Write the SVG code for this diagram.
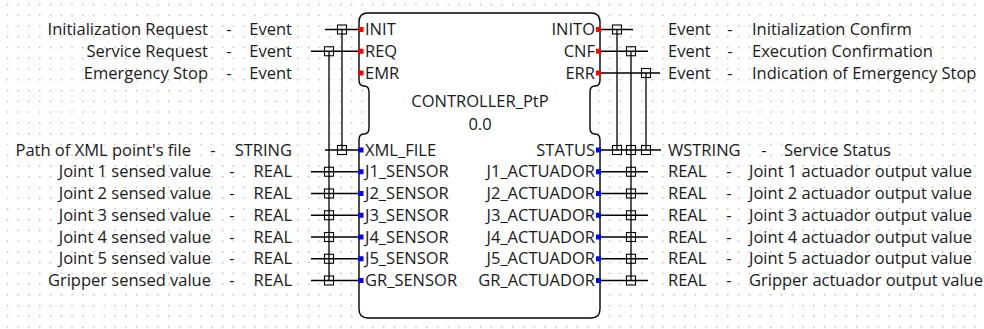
<svg xmlns="http://www.w3.org/2000/svg" width="984" height="329" viewBox="0 0 984 329">
<defs>
<pattern id="grid" x="0" y="0" width="10.75" height="10.75" patternUnits="userSpaceOnUse">
<rect x="7" y="4" width="1.2" height="1.2" fill="#9a9a9a"/>
</pattern>
</defs>
<style>
text{font-family:"Open Sans","Liberation Sans",sans-serif;font-size:16.5px;fill:#1a1a1a}
.e{text-anchor:end}
.m{text-anchor:middle}
.w{stroke:#000;stroke-width:1.3;fill:none}
.j{stroke:#000;stroke-width:1.1;fill:none}
.ev{fill:#ff0000}
.da{fill:#0000ff}
</style>
<rect width="984" height="329" fill="#ffffff"/>
<rect width="984" height="329" fill="url(#grid)"/>

<g id="connectors">
<path class="w" d="M325,29.5H359M311,51.25H359M325,150H359M311,171.75H359M311,193.5H359M311,215.25H359M311,237H359M311,258.75H359M311,280.5H359M342,29.5V150M329,51.25V280.5"/>
<g class="j">
<rect x="337.5" y="25" width="9" height="9"/>
<rect x="324.5" y="46.75" width="9" height="9"/>
<rect x="337.5" y="145.5" width="9" height="9"/>
<rect x="324.5" y="167.25" width="9" height="9"/>
<rect x="324.5" y="189" width="9" height="9"/>
<rect x="324.5" y="210.75" width="9" height="9"/>
<rect x="324.5" y="232.5" width="9" height="9"/>
<rect x="324.5" y="254.25" width="9" height="9"/>
<rect x="324.5" y="276" width="9" height="9"/>
</g>
<path class="w" d="M601,29.5H633M601,51.25H648M601,73H660M601,150H661M601,171.75H648M601,193.5H648M601,215.25H648M601,237H648M601,258.75H648M601,280.5H648M617,29.5V150M631,51.25V280.5M646,73V150"/>
<g class="j">
<rect x="612.5" y="25" width="9" height="9"/>
<rect x="626.5" y="46.75" width="9" height="9"/>
<rect x="641.5" y="68.5" width="9" height="9"/>
<rect x="612.5" y="145.5" width="9" height="9"/>
<rect x="626.5" y="145.5" width="9" height="9"/>
<rect x="641.5" y="145.5" width="9" height="9"/>
<rect x="626.5" y="167.25" width="9" height="9"/>
<rect x="626.5" y="189" width="9" height="9"/>
<rect x="626.5" y="210.75" width="9" height="9"/>
<rect x="626.5" y="232.5" width="9" height="9"/>
<rect x="626.5" y="254.25" width="9" height="9"/>
<rect x="626.5" y="276" width="9" height="9"/>
</g>
</g>

<g id="controller">
<path d="M368,13H591Q600,13 600,22V80Q600,86 595,86Q590,86 590,92V128Q590,134 595,134Q600,134 600,140V309Q600,318 591,318H368Q359,318 359,309V140Q359,134 364,134Q369,134 369,128V92Q369,86 364,86Q359,86 359,80V22Q359,13 368,13Z" fill="#ffffff" stroke="#000" stroke-width="1.4"/>
<text class="m" x="480" y="107">CONTROLLER_PtP</text>
<text class="m" x="480" y="130">0.0</text>
<g id="in-ports">
<rect class="ev" x="358.5" y="27" width="5" height="5"/>
<rect class="ev" x="358.5" y="48.75" width="5" height="5"/>
<rect class="ev" x="358.5" y="70.5" width="5" height="5"/>
<rect class="da" x="358.5" y="147.5" width="5" height="5"/>
<rect class="da" x="358.5" y="169.25" width="5" height="5"/>
<rect class="da" x="358.5" y="191" width="5" height="5"/>
<rect class="da" x="358.5" y="212.75" width="5" height="5"/>
<rect class="da" x="358.5" y="234.5" width="5" height="5"/>
<rect class="da" x="358.5" y="256.25" width="5" height="5"/>
<rect class="da" x="358.5" y="278" width="5" height="5"/>
<text x="365" y="35">INIT</text>
<text x="365" y="56.75">REQ</text>
<text x="365" y="78.5">EMR</text>
<text x="365" y="155.5">XML_FILE</text>
<text x="365" y="177.25">J1_SENSOR</text>
<text x="365" y="199">J2_SENSOR</text>
<text x="365" y="220.75">J3_SENSOR</text>
<text x="365" y="242.5">J4_SENSOR</text>
<text x="365" y="264.25">J5_SENSOR</text>
<text x="365" y="286">GR_SENSOR</text>
</g>
<g id="out-ports">
<rect class="ev" x="596" y="27" width="5" height="5"/>
<rect class="ev" x="596" y="48.75" width="5" height="5"/>
<rect class="ev" x="596" y="70.5" width="5" height="5"/>
<rect class="da" x="596" y="147.5" width="5" height="5"/>
<rect class="da" x="596" y="169.25" width="5" height="5"/>
<rect class="da" x="596" y="191" width="5" height="5"/>
<rect class="da" x="596" y="212.75" width="5" height="5"/>
<rect class="da" x="596" y="234.5" width="5" height="5"/>
<rect class="da" x="596" y="256.25" width="5" height="5"/>
<rect class="da" x="596" y="278" width="5" height="5"/>
<text class="e" x="595" y="35">INITO</text>
<text class="e" x="595" y="56.75">CNF</text>
<text class="e" x="595" y="78.5">ERR</text>
<text class="e" x="595" y="155.5">STATUS</text>
<text class="e" x="595" y="177.25">J1_ACTUADOR</text>
<text class="e" x="595" y="199">J2_ACTUADOR</text>
<text class="e" x="595" y="220.75">J3_ACTUADOR</text>
<text class="e" x="595" y="242.5">J4_ACTUADOR</text>
<text class="e" x="595" y="264.25">J5_ACTUADOR</text>
<text class="e" x="595" y="286">GR_ACTUADOR</text>
</g>
</g>

<g id="input-labels">
<g id="lbl-init"><text class="e" x="208" y="35">Initialization Request</text><text class="m" x="229" y="35">-</text><text class="e" x="292" y="35">Event</text></g>
<g id="lbl-req"><text class="e" x="208" y="56.75">Service Request</text><text class="m" x="229" y="56.75">-</text><text class="e" x="292" y="56.75">Event</text></g>
<g id="lbl-emr"><text class="e" x="208" y="78.5">Emergency Stop</text><text class="m" x="229" y="78.5">-</text><text class="e" x="292" y="78.5">Event</text></g>
<g id="lbl-xml"><text class="e" x="191" y="155.5">Path of XML point's file</text><text class="m" x="213" y="155.5">-</text><text class="e" x="292" y="155.5">STRING</text></g>
<g id="lbl-j1s"><text class="e" x="211" y="177.25">Joint 1 sensed value</text><text class="m" x="232" y="177.25">-</text><text class="e" x="292" y="177.25">REAL</text></g>
<g id="lbl-j2s"><text class="e" x="211" y="199">Joint 2 sensed value</text><text class="m" x="232" y="199">-</text><text class="e" x="292" y="199">REAL</text></g>
<g id="lbl-j3s"><text class="e" x="211" y="220.75">Joint 3 sensed value</text><text class="m" x="232" y="220.75">-</text><text class="e" x="292" y="220.75">REAL</text></g>
<g id="lbl-j4s"><text class="e" x="211" y="242.5">Joint 4 sensed value</text><text class="m" x="232" y="242.5">-</text><text class="e" x="292" y="242.5">REAL</text></g>
<g id="lbl-j5s"><text class="e" x="211" y="264.25">Joint 5 sensed value</text><text class="m" x="232" y="264.25">-</text><text class="e" x="292" y="264.25">REAL</text></g>
<g id="lbl-grs"><text class="e" x="211" y="286">Gripper sensed value</text><text class="m" x="232" y="286">-</text><text class="e" x="292" y="286">REAL</text></g>
</g>

<g id="output-labels">
<g id="lbl-inito"><text x="668" y="35">Event</text><text class="m" x="730" y="35">-</text><text x="752" y="35">Initialization Confirm</text></g>
<g id="lbl-cnf"><text x="668" y="56.75">Event</text><text class="m" x="730" y="56.75">-</text><text x="752" y="56.75">Execution Confirmation</text></g>
<g id="lbl-err"><text x="668" y="78.5">Event</text><text class="m" x="730" y="78.5">-</text><text x="752" y="78.5">Indication of Emergency Stop</text></g>
<g id="lbl-status"><text x="668" y="155.5">WSTRING</text><text class="m" x="764" y="155.5">-</text><text x="784" y="155.5">Service Status</text></g>
<g id="lbl-j1a"><text x="668" y="177.25">REAL</text><text class="m" x="729" y="177.25">-</text><text x="749" y="177.25">Joint 1 actuador output value</text></g>
<g id="lbl-j2a"><text x="668" y="199">REAL</text><text class="m" x="729" y="199">-</text><text x="749" y="199">Joint 2 actuador output value</text></g>
<g id="lbl-j3a"><text x="668" y="220.75">REAL</text><text class="m" x="729" y="220.75">-</text><text x="749" y="220.75">Joint 3 actuador output value</text></g>
<g id="lbl-j4a"><text x="668" y="242.5">REAL</text><text class="m" x="729" y="242.5">-</text><text x="749" y="242.5">Joint 4 actuador output value</text></g>
<g id="lbl-j5a"><text x="668" y="264.25">REAL</text><text class="m" x="729" y="264.25">-</text><text x="749" y="264.25">Joint 5 actuador output value</text></g>
<g id="lbl-gra"><text x="668" y="286">REAL</text><text class="m" x="729" y="286">-</text><text x="749" y="286">Gripper actuador output value</text></g>
</g>
</svg>
